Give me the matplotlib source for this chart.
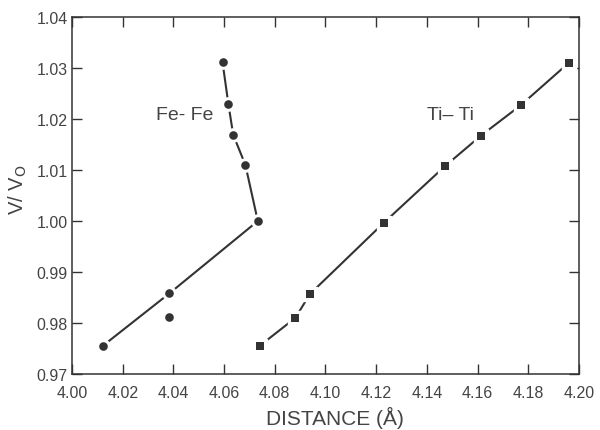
import matplotlib
matplotlib.use("Agg")
import matplotlib.pyplot as plt

# Fe-Fe distances (connected line) and one extra point off the line
fe_x = [4.0121, 4.0384, 4.0733, 4.0684, 4.0636, 4.0617, 4.0594]
fe_y = [0.9755, 0.9858, 1.0000, 1.0110, 1.0169, 1.0229, 1.0311]
fe_extra_x = [4.0381]
fe_extra_y = [0.9812]

# Ti-Ti distances
ti_x = [4.0740, 4.0881, 4.0939, 4.1231, 4.1470, 4.1612, 4.1770, 4.1959]
ti_y = [0.9755, 0.9810, 0.9857, 0.9997, 1.0107, 1.0167, 1.0227, 1.0310]

xticks = [4.00, 4.02, 4.04, 4.06, 4.08, 4.10, 4.12, 4.14, 4.16, 4.18, 4.20]
yticks = [0.97, 0.98, 0.99, 1.00, 1.01, 1.02, 1.03, 1.04]

ink = "#333333"
txt = "#444444"

plt.rcParams['font.family'] = ['Liberation Sans', 'DejaVu Sans']

fig = plt.figure(figsize=(6, 4.31), dpi=100)
ax = fig.add_axes([0.12, 0.13, 0.845, 0.828])

# lines first, then white halos so the line stops short of each marker
ax.plot(fe_x, fe_y, color=ink, lw=1.5, zorder=1)
ax.plot(ti_x, ti_y, color=ink, lw=1.5, zorder=1)
ax.plot(fe_x, fe_y, 'o', color='white', ms=9.5, zorder=2)
ax.plot(ti_x, ti_y, 's', color='white', ms=9.5, zorder=2)
ax.plot(fe_x + fe_extra_x, fe_y + fe_extra_y, 'o', color=ink, ms=6.2, mew=0, zorder=3)
ax.plot(ti_x, ti_y, 's', color=ink, ms=6.2, mew=0, zorder=3)

ax.text(4.0445, 1.0208, "Fe- Fe", fontsize=14, color=txt, ha='center', va='center')
ax.text(4.1495, 1.0208, "Ti\u2013 Ti", fontsize=14, color=txt, ha='center', va='center')

ax.set_xlim(4.00, 4.20)
ax.set_ylim(0.97, 1.04)
ax.set_xticks(xticks)
ax.set_yticks(yticks)
ax.set_xticklabels(["%.2f" % v for v in xticks])
ax.set_yticklabels(["%.2f" % v for v in yticks])
ax.tick_params(direction='in', top=True, right=True, length=7, width=1,
               color=ink, labelcolor=txt, labelsize=11.5)
ax.tick_params(axis='x', labeltop=False, pad=8)
ax.tick_params(axis='y', labelright=False, pad=3)
for s in ax.spines.values():
    s.set_color(ink)
    s.set_linewidth(1.1)

ax.set_xlabel("DISTANCE (\u00c5)", fontsize=15, color=txt)
ax.xaxis.set_label_coords(0.518, -0.09)
ax.set_ylabel("V/ V$_\\mathrm{O}$", fontsize=14.5, color=txt)
ax.yaxis.set_label_coords(-0.085, 0.52)

fig.savefig("out.png", dpi=100)
